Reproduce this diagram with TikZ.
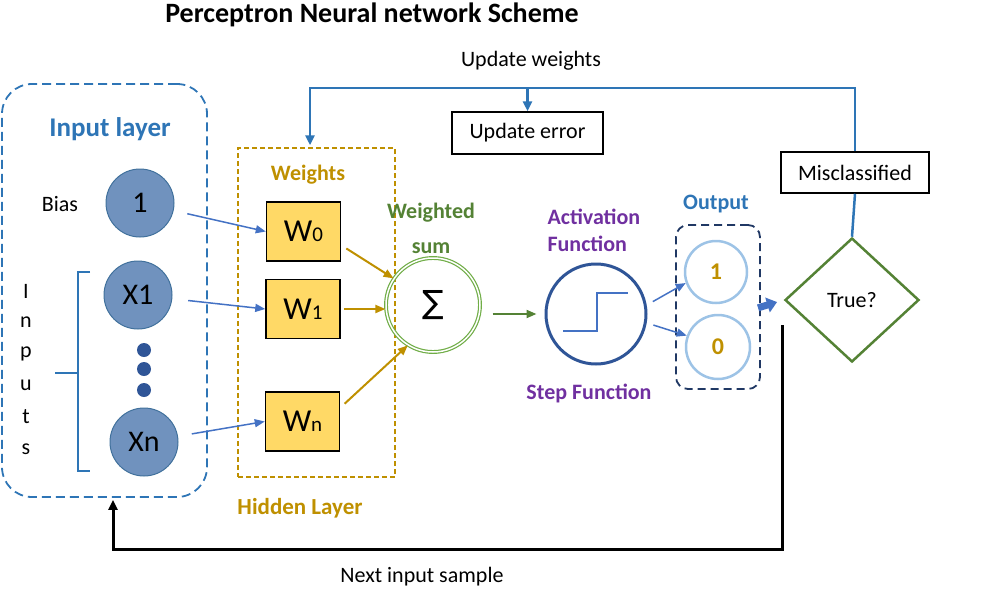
\documentclass[tikz,border=0pt]{standalone}
\usepackage{fontspec}
\setmainfont{Carlito}
\newfontfamily\symfont{DejaVu Sans}
\usepackage{xcolor}
\usetikzlibrary{arrows.meta,positioning,shapes.geometric,calc}

\definecolor{layerblue}{HTML}{2E75B6}
\definecolor{arrblue}{HTML}{4472C4}
\definecolor{navy}{HTML}{2F5597}
\definecolor{darknavy}{HTML}{203864}
\definecolor{gold}{HTML}{BF9000}
\definecolor{wfill}{HTML}{FFD966}
\definecolor{nfill}{HTML}{7092BE}
\definecolor{nborder}{HTML}{41719C}
\definecolor{sumgreen}{HTML}{70AD47}
\definecolor{darkgreen}{HTML}{548235}
\definecolor{purp}{HTML}{7030A0}
\definecolor{lightblue}{HTML}{9DC3E6}

\newcommand{\wsub}[1]{{\fontsize{21}{21}\selectfont #1}}

\begin{document}
\begin{tikzpicture}[x=1pt, y=-1pt,
    lbl/.style={font=\fontsize{22}{27}\selectfont},
    head/.style={font=\fontsize{22}{27}\selectfont\bfseries},
    neuron/.style={circle, draw=nborder, fill=nfill, line width=1pt, minimum size=68pt, inner sep=0pt, font=\fontsize{30}{30}\selectfont},
    wbox/.style={rectangle, draw=black, fill=wfill, line width=1.5pt, minimum width=74pt, minimum height=59pt, inner sep=0pt, font=\fontsize{32}{32}\selectfont},
    outn/.style={circle, draw=lightblue, line width=2.5pt, minimum size=62pt, inner sep=0pt, text=gold, font=\fontsize{24}{24}\selectfont\bfseries},
    txtbox/.style={rectangle, draw=black, line width=1.5pt, inner sep=0pt, font=\fontsize{22}{27}\selectfont},
    inarr/.style={-{Triangle[length=10pt,width=8pt]}, line width=1.5pt, draw=arrblue},
    goldarr/.style={-{Triangle[length=10pt,width=8pt]}, line width=2pt, draw=gold},
    fback/.style={-{Triangle[length=10pt,width=9pt]}, line width=2.5pt, draw=layerblue}
]
    \useasboundingbox (0,0) rectangle (985,592);

    % Title
    \node[font=\fontsize{28}{32}\selectfont\bfseries] (title) at (372,15) {Perceptron Neural network Scheme};

    % Layer frames
    \node[draw=layerblue, line width=1.8pt, dash pattern=on 9pt off 5pt, rounded corners=30pt, minimum width=205pt, minimum height=413pt] (inlayer) at (104.5,290.5) {};
    \node[draw=gold, line width=1.5pt, dash pattern=on 5pt off 3pt, minimum width=157pt, minimum height=329pt] (hidlayer) at (316.5,312.5) {};
    \node[draw=darknavy, line width=1.8pt, dash pattern=on 8pt off 5pt, rounded corners=12pt, minimum width=84pt, minimum height=164pt] (outlayer) at (718,307) {};

    % Input layer
    \node[font=\fontsize{27}{30}\selectfont\bfseries, text=layerblue] (inlbl) at (110,129) {Input layer};
    \node[lbl] (bias) at (60,204) {Bias};
    \node[neuron] (one) at (140,203) {1};
    \node[neuron] (x1) at (138,295) {X1};
    \node[neuron] (xn) at (144,442) {Xn};
    \foreach \y in {350,369,390}
        \fill[navy] (144,\y) circle (7pt);
    \draw[layerblue, line width=2.5pt] (90,272) -- (78,272) -- (78,471) -- (90,471);
    \draw[layerblue, line width=2.5pt] (78,373) -- (55,373);
    \foreach \l/\y in {I/291,n/322,p/354,u/385,t/417,s/449}
        \node[lbl] (inp\y) at (26,\y) {\l};

    % Hidden layer
    \node[head, text=gold] (wlbl) at (308,175) {Weights};
    \node[wbox] (w0) at (303.5,231.5) {W\wsub{0}};
    \node[wbox] (w1) at (303,309) {W\wsub{1}};
    \node[wbox] (wn) at (302.5,421.5) {W\wsub{n}};
    \node[font=\fontsize{23}{27}\selectfont\bfseries, text=gold] (hidlbl) at (300,508) {Hidden Layer};

    % Weighted sum
    \node[head, text=darkgreen, align=center, font=\fontsize{22}{35}\selectfont\bfseries] (sumlbl) at (431,228) {Weighted\\sum};
    \node[circle, draw=sumgreen, double=white, double distance=1.5pt, line width=1.2pt, minimum size=94pt, inner sep=0pt] (sum) at (433,305) {\fontsize{32}{32}\symfont ∑};

    % Activation
    \node[head, text=purp, align=left, anchor=west] (actlbl) at (544,230) {Activation\\Function};
    \node[circle, draw=navy, line width=3pt, minimum size=100pt, inner sep=0pt] (act) at (596,314) {};
    \draw[arrblue, line width=2.5pt] ($(act.center)+(-33,17)$) -- ($(act.center)+(1,17)$) -- ($(act.center)+(1,-21)$) -- ($(act.center)+(32,-21)$);
    \node[head, text=purp] (steplbl) at (589,393) {Step Function};

    % Output
    \node[head, text=layerblue] (outlbl) at (716,204) {Output};
    \node[outn] (oone) at (716,272) {1};
    \node[outn, minimum size=64pt] (ozero) at (718,347) {0};

    % Decision
    \node[diamond, draw=darkgreen, line width=2.5pt, minimum width=134pt, minimum height=124pt, inner sep=0pt, lbl] (check) at (852,300) {True?};
    \node[txtbox, minimum width=148pt, minimum height=41pt] (miscl) at (855,172.5) {Misclassified};
    \node[txtbox, minimum width=151pt, minimum height=42pt] (upderr) at (527.5,133) {Update error};
    \node[lbl] (updw) at (531,61) {Update weights};
    \node[lbl] (nextin) at (422,577) {Next input sample};

    % Arrows
    \draw[inarr, shorten <=14pt] (one) -- (w0.west);
    \draw[inarr, shorten <=16pt] (x1) -- (w1.west);
    \draw[inarr, shorten <=14pt] (xn) -- (wn.west);
    \draw[goldarr, shorten <=6pt] (w0.-20) -- (sum.146);
    \draw[goldarr, shorten <=3pt] (w1.east) -- (w1.east -| sum.west);
    \draw[goldarr, shorten <=6pt] (wn.20) -- (sum.238);
    \draw[-{Triangle[length=10pt,width=8pt]}, line width=2pt, darkgreen, shorten <=12pt, shorten >=8pt] (sum.east |- act.west) -- (act.west);
    \draw[inarr, shorten <=7pt] (act.10) -- (oone.200);
    \draw[inarr, shorten <=7pt] (act.-10) -- (ozero.160);
    \draw[-{Triangle[length=10pt,width=15pt]}, line width=7pt, arrblue, shorten <=-3pt, shorten >=7pt] (outlayer.east) -- (check.west);

    % Feedback
    \coordinate (topline) at (310,88);
    \draw[layerblue, line width=2.5pt] (check.north) -- (miscl.south);
    \draw[fback, shorten >=2pt] (miscl.north) |- (topline) -- (topline |- hidlayer.north);
    \draw[fback] (upderr.north |- topline) -- (upderr.north);

    % Next sample
    \coordinate (retstart) at (782,325);
    \coordinate (retcorner) at (113,549);
    \draw[-{Triangle[length=10pt,width=9pt]}, line width=3pt, black, shorten >=2pt] (retstart) |- (retcorner) -- (retcorner |- inlayer.south);

\end{tikzpicture}
\end{document}
